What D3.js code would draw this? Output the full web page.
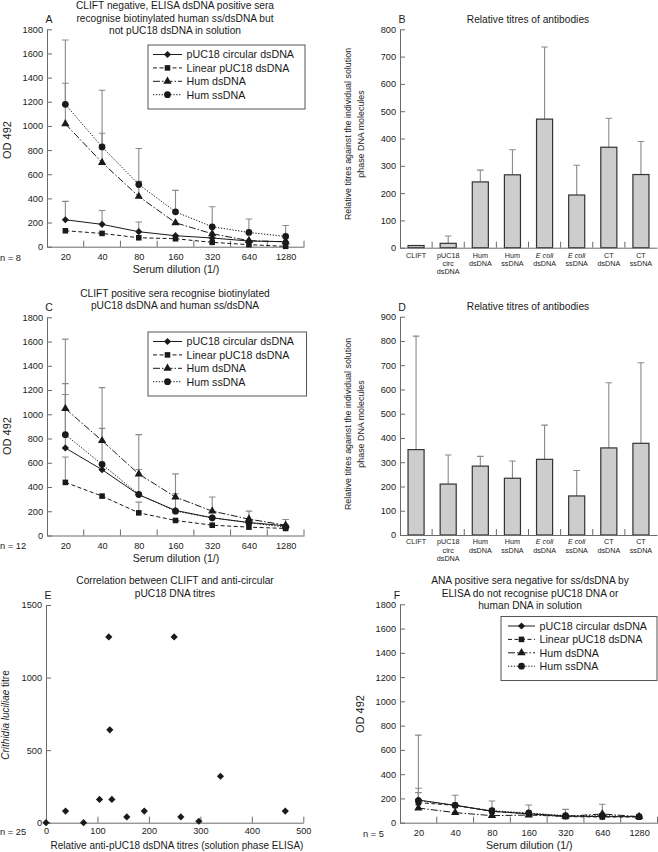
<!DOCTYPE html>
<html>
<head>
<meta charset="utf-8">
<script src="https://cdn.jsdelivr.net/npm/d3@7"></script>
<style>
body { margin: 0; background: #fff; }
</style>
</head>
<body>
<script>
// ---- data ----
var dilutions = ["20", "40", "80", "160", "320", "640", "1280"];
var seriesNames = ["pUC18 circular dsDNA", "Linear pUC18 dsDNA", "Hum dsDNA", "Hum ssDNA"];
var odTicks = [0, 200, 400, 600, 800, 1000, 1200, 1400, 1600, 1800];

// panel A (n = 8)
var aCirc = [223, 185, 124, 91, 72, 47, 41];
var aLinear = [132, 110, 74, 66, 36, 17, 3];
var aHumDs = [1017, 697, 416, 198, 107, 50, 41];
var aHumSs = [1179, 826, 515, 289, 165, 118, 85];
var aCircErr = [375, 300, 204, null, null, null, null];
var aLinearErr = [null, null, null, null, null, null, null];
var aHumDsErr = [1353, 939, 541, null, null, null, null];
var aHumSsErr = [1711, 1295, 813, 466, 331, 229, 176];

// panel C (n = 12)
var cCirc = [722, 543, 336, 207, 146, 107, 80];
var cLinear = [438, 325, 187, 124, 85, 69, 58];
var cHumDs = [1047, 782, 507, 317, 201, 135, 85];
var cHumSs = [832, 587, 339, 201, 146, 105, 69];
var cCircErr = [1163, null, null, null, null, null, null];
var cLinearErr = [647, null, 275, null, null, null, null];
var cHumDsErr = [1620, 1220, 832, 508, 317, 201, 132];
var cHumSsErr = [1253, 884, 545, 344, null, null, null];

// panel F (n = 5)
var fCirc = [187, 143, 94, 74, 55, 50, 50];
var fLinear = [165, 143, 94, 72, 50, 47, 47];
var fHumDs = [121, 83, 58, 63, 52, 72, 50];
var fHumSs = [182, 143, 99, 80, 58, 58, 50];
var fCircErr = [284, 226, 179, 146, 110, null, null];
var fLinearErr = [248, null, null, null, null, null, null];
var fHumDsErr = [null, null, null, null, null, 152, null];
var fHumSsErr = [722, null, null, null, null, null, null];

// panels B and D
var barCategories = ["CLIFT", "pUC18 circ dsDNA", "Hum dsDNA", "Hum ssDNA", "E coli dsDNA", "E coli ssDNA", "CT dsDNA", "CT ssDNA"];
var barLabelLines = [["CLIFT"], ["pUC18", "circ", "dsDNA"], ["Hum", "dsDNA"], ["Hum", "ssDNA"], ["E coli", "dsDNA"], ["E coli", "ssDNA"], ["CT", "dsDNA"], ["CT", "ssDNA"]];
var bValues = [8, 16, 241, 267, 471, 193, 368, 268];
var bErrors = [null, 43, 284, 359, 735, 302, 474, 389];
var bTicks = [0, 100, 200, 300, 400, 500, 600, 700, 800];
var dValues = [352, 210, 284, 234, 312, 161, 359, 378];
var dErrors = [820, 330, 324, 305, 453, 266, 628, 710];
var dTicks = [0, 100, 200, 300, 400, 500, 600, 700, 800, 900];

// panel E (scatter)
var eAntiPuc18 = [0, 38, 73, 104, 122, 124, 128, 157, 191, 249, 262, 297, 339, 465];
var eCliftTitre = [0, 80, 0, 160, 1280, 640, 160, 40, 80, 1280, 40, 10, 320, 80];
var eXTicks = [0, 100, 200, 300, 400, 500];
var eYTicks = [0, 500, 1000, 1500];

// ---- styling ----
var font = "'Liberation Sans', Arial, sans-serif";
var ink = "#1a1a1a", axisColor = "#6a6a6a", errColor = "#8a8a8a";
var plain = d3.format("d");
var seriesStyles = [
    { dash: null, marker: "diamond" },
    { dash: "4,2.5", marker: "square" },
    { dash: "7,2,1.5,2", marker: "triangle" },
    { dash: "1.3,1.6", marker: "circle" }
];

var svg = d3.select("body").append("svg")
    .attr("width", 658)
    .attr("height", 852)
    .style("font-family", font);

function label(g, x, y, str, size, anchor) {
    return g.append("text")
        .attr("x", x).attr("y", y)
        .attr("font-size", size)
        .attr("text-anchor", anchor || "middle")
        .attr("fill", ink)
        .text(str);
}

function rotLabel(g, x, y, str, size) {
    return g.append("text")
        .attr("transform", "translate(" + x + "," + y + ") rotate(-90)")
        .attr("font-size", size)
        .attr("text-anchor", "middle")
        .attr("fill", ink)
        .text(str);
}

function styleAxis(sel, size) {
    sel.attr("font-family", font).attr("font-size", size);
    sel.selectAll("path, line").attr("stroke", axisColor).attr("stroke-width", 1);
    sel.selectAll("text").attr("fill", ink);
}

function symbolPath(kind) {
    if (kind === "circle") return d3.symbol().type(d3.symbolCircle).size(36)();
    if (kind === "square") return d3.symbol().type(d3.symbolSquare).size(31)();
    if (kind === "triangle") return d3.symbol().type(d3.symbolTriangle).size(30)();
    return d3.symbol().type(d3.symbolSquare).size(26)();
}

function drawMarkers(g, kind, pts) {
    g.selectAll(null).data(pts).enter().append("path")
        .attr("d", symbolPath(kind))
        .attr("transform", function (p) {
            return "translate(" + p[0] + "," + p[1] + ")" + (kind === "diamond" ? " rotate(45)" : "");
        })
        .attr("fill", ink);
}

function errorPath(cx, yv, ye) {
    return "M" + cx + "," + yv + "V" + ye + "M" + (cx - 3.3) + "," + ye + "H" + (cx + 3.3);
}

// dilution curve panels (A, C, F)
function linePanel(cfg) {
    var g = svg.append("g");
    var x = d3.scalePoint().domain(dilutions).range([cfg.x0, cfg.x1]).padding(0.5);
    var y = d3.scaleLinear().domain([0, 1800]).range([cfg.y0, cfg.y1]);

    cfg.title.forEach(function (t, i) {
        label(g, cfg.titleX, cfg.titleY + i * 12.5, t, 10.2);
    });
    label(g, cfg.letterX, cfg.letterY, cfg.letter, 10.5);

    // error bars first, they sit under the curves
    cfg.series.forEach(function (s) {
        var pts = dilutions.map(function (d, i) {
            return { d: d, v: s.values[i], e: s.errors[i] };
        }).filter(function (p) { return p.e != null; });
        g.selectAll(null).data(pts).enter().append("path")
            .attr("d", function (p) { return errorPath(x(p.d), y(p.v), y(p.e)); })
            .attr("fill", "none")
            .attr("stroke", errColor)
            .attr("stroke-width", 1.1);
    });

    var yAxis = g.append("g")
        .attr("transform", "translate(" + cfg.x0 + ",0)")
        .call(d3.axisLeft(y).tickValues(odTicks).tickFormat(plain).tickSize(-5).tickSizeOuter(0).tickPadding(4));
    styleAxis(yAxis, 9.2);

    var xAxis = g.append("g")
        .attr("transform", "translate(0," + cfg.y0 + ")")
        .call(d3.axisBottom(x).tickSize(0).tickPadding(6.5));
    styleAxis(xAxis, 9.2);
    d3.range(1, dilutions.length + 1).forEach(function (i) {
        var bx = cfg.x0 + i * x.step();
        g.append("line")
            .attr("x1", bx).attr("x2", bx)
            .attr("y1", cfg.y0).attr("y2", cfg.y0 - 6)
            .attr("stroke", axisColor);
    });

    label(g, (cfg.x0 + cfg.x1) / 2 + 0.5, cfg.y0 + 26, "Serum dilution (1/)", 10.6);
    rotLabel(g, cfg.yLabelX, cfg.yLabelY, "OD 492", 11);
    label(g, cfg.nX, cfg.y0 + 13.8, cfg.n, 9.3, "start");

    cfg.series.forEach(function (s, k) {
        var st = seriesStyles[k];
        var line = d3.line()
            .x(function (v, i) { return x(dilutions[i]); })
            .y(function (v) { return y(v); });
        g.append("path").datum(s.values)
            .attr("d", line)
            .attr("fill", "none")
            .attr("stroke", ink)
            .attr("stroke-width", 1)
            .attr("stroke-dasharray", st.dash);
        drawMarkers(g, st.marker, s.values.map(function (v, i) { return [x(dilutions[i]), y(v)]; }));
    });

    // legend
    var lg = g.append("g").attr("transform", "translate(" + cfg.legend[0] + "," + cfg.legend[1] + ")");
    lg.append("rect")
        .attr("width", cfg.legend[2]).attr("height", 64)
        .attr("fill", "#fff").attr("stroke", "#555").attr("stroke-width", 1);
    seriesNames.forEach(function (name, k) {
        var ry = 9.5 + k * 13.4;
        var st = seriesStyles[k];
        lg.append("line")
            .attr("x1", cfg.legendLine[0]).attr("x2", cfg.legendLine[1])
            .attr("y1", ry).attr("y2", ry)
            .attr("stroke", ink).attr("stroke-dasharray", st.dash);
        drawMarkers(lg, st.marker, [[(cfg.legendLine[0] + cfg.legendLine[1]) / 2, ry]]);
        label(lg, cfg.legendLine[1] + 4.5, ry + 3.9, name, 10.7, "start");
    });
}

// relative titre bar panels (B, D)
function barPanel(cfg) {
    var g = svg.append("g");
    var x = d3.scaleBand().domain(barCategories).range([400, 657]).paddingInner(0.5).paddingOuter(0.25);
    var y = d3.scaleLinear().domain([0, cfg.ticks[cfg.ticks.length - 1]]).range([cfg.y0, cfg.y1]);

    label(g, 528, cfg.titleY, "Relative titres of antibodies", 10.2);
    label(g, 402, cfg.titleY + 0.2, cfg.letter, 10.5);

    var bars = barCategories.map(function (c, i) {
        return { c: c, v: cfg.values[i], e: cfg.errors[i] };
    });

    g.selectAll(null).data(bars.filter(function (b) { return b.e != null; }))
        .enter().append("path")
        .attr("d", function (b) { return errorPath(x(b.c) + x.bandwidth() / 2, y(b.v), y(b.e)); })
        .attr("fill", "none")
        .attr("stroke", errColor)
        .attr("stroke-width", 1.1);

    g.selectAll(null).data(bars).enter().append("rect")
        .attr("x", function (b) { return x(b.c); })
        .attr("y", function (b) { return y(b.v); })
        .attr("width", x.bandwidth())
        .attr("height", function (b) { return cfg.y0 - y(b.v); })
        .attr("fill", "#cdcdcd")
        .attr("stroke", "#333")
        .attr("stroke-width", 1.2);

    var yAxis = g.append("g")
        .attr("transform", "translate(400,0)")
        .call(d3.axisLeft(y).tickValues(cfg.ticks).tickFormat(plain).tickSize(-5).tickSizeOuter(0).tickPadding(4));
    styleAxis(yAxis, 9.2);

    var xAxis = g.append("g")
        .attr("transform", "translate(0," + cfg.y0 + ")")
        .call(d3.axisBottom(x).tickSize(0).tickFormat(""));
    styleAxis(xAxis, 9);
    d3.range(1, barCategories.length).forEach(function (i) {
        var bx = 400 + i * x.step();
        g.append("line")
            .attr("x1", bx).attr("x2", bx)
            .attr("y1", cfg.y0).attr("y2", cfg.y0 - 6)
            .attr("stroke", axisColor);
    });

    barLabelLines.forEach(function (lines, i) {
        var cx = x(barCategories[i]) + x.bandwidth() / 2;
        lines.forEach(function (t, j) {
            var tx = label(g, cx, cfg.labelY + j * 8.4, "", 7.2);
            if (t.indexOf("E coli") === 0) {
                tx.append("tspan").attr("font-style", "italic").text(t);
            } else {
                tx.text(t);
            }
        });
    });

    rotLabel(g, 350.5, cfg.yLabelY, "Relative titres against the individual solution", 8.9);
    rotLabel(g, 363.5, cfg.yLabelY, "phase DNA molecules", 8.9);
}

linePanel({
    x0: 47, x1: 304, y0: 246.7, y1: 29.3,
    title: ["CLIFT negative, ELISA dsDNA positive sera", "recognise biotinylated human ss/dsDNA but", "not pUC18 dsDNA in solution"],
    titleX: 175, titleY: 9.3, letter: "A", letterX: 49, letterY: 22.6,
    yLabelX: 11, yLabelY: 140, n: "n = 8", nX: 0,
    legend: [148, 45, 157], legendLine: [5, 34],
    series: [
        { values: aCirc, errors: aCircErr },
        { values: aLinear, errors: aLinearErr },
        { values: aHumDs, errors: aHumDsErr },
        { values: aHumSs, errors: aHumSsErr }
    ]
});

linePanel({
    x0: 47, x1: 304, y0: 535.5, y1: 317.3,
    title: ["CLIFT positive sera recognise biotinylated", "pUC18 dsDNA and human ss/dsDNA"],
    titleX: 175, titleY: 296.9, letter: "C", letterX: 49, letterY: 311.4,
    yLabelX: 11, yLabelY: 436, n: "n = 12", nX: 0,
    legend: [148, 332, 158.5], legendLine: [5, 34],
    series: [
        { values: cCirc, errors: cCircErr },
        { values: cLinear, errors: cLinearErr },
        { values: cHumDs, errors: cHumDsErr },
        { values: cHumSs, errors: cHumSsErr }
    ]
});

linePanel({
    x0: 400, x1: 657.5, y0: 822.7, y1: 604.3,
    title: ["ANA positive sera negative for ss/dsDNA by", "ELISA do not recognise pUC18 DNA or", "human DNA in solution"],
    titleX: 530, titleY: 584.3, letter: "F", letterX: 397, letterY: 599.4,
    yLabelX: 364, yLabelY: 714, n: "n = 5", nX: 363,
    legend: [501, 616.5, 156], legendLine: [7, 34],
    series: [
        { values: fCirc, errors: fCircErr },
        { values: fLinear, errors: fLinearErr },
        { values: fHumDs, errors: fHumDsErr },
        { values: fHumSs, errors: fHumSsErr }
    ]
});

barPanel({
    values: bValues, errors: bErrors, ticks: bTicks,
    y0: 247.7, y1: 29.3, titleY: 22.5, letter: "B", labelY: 257.5, yLabelY: 134
});

barPanel({
    values: dValues, errors: dErrors, ticks: dTicks,
    y0: 535, y1: 316.7, titleY: 310.3, letter: "D", labelY: 544.2, yLabelY: 424
});

// panel E scatter
(function () {
    var g = svg.append("g");
    var x = d3.scaleLinear().domain([0, 500]).range([46, 303.3]);
    var y = d3.scaleLinear().domain([0, 1500]).range([822.7, 605]);

    label(g, 175, 584.3, "Correlation between CLIFT and anti-circular", 10.2);
    label(g, 175, 596.8, "pUC18 DNA titres", 10.2);
    label(g, 48, 599.4, "E", 10.5);

    var yAxis = g.append("g")
        .attr("transform", "translate(46,0)")
        .call(d3.axisLeft(y).tickValues(eYTicks).tickFormat(plain).tickSize(-5).tickSizeOuter(0).tickPadding(4));
    styleAxis(yAxis, 9.2);

    var xAxis = g.append("g")
        .attr("transform", "translate(0,822.7)")
        .call(d3.axisBottom(x).tickValues(eXTicks).tickFormat(plain).tickSize(-6).tickSizeOuter(0).tickPadding(5));
    styleAxis(xAxis, 9.2);

    label(g, 177, 848.7, "Relative anti-pUC18 dsDNA titres (solution phase ELISA)", 10);
    label(g, 0, 834.5, "n = 25", 9.3, "start");

    var yl = g.append("text")
        .attr("transform", "translate(9,715) rotate(-90)")
        .attr("font-size", 10)
        .attr("text-anchor", "middle")
        .attr("fill", ink);
    yl.append("tspan").attr("font-style", "italic").text("Crithidia luciliae");
    yl.append("tspan").text(" titre");

    drawMarkers(g, "diamond", eAntiPuc18.map(function (v, i) { return [x(v), y(eCliftTitre[i])]; }));
})();
</script>
</body>
</html>
